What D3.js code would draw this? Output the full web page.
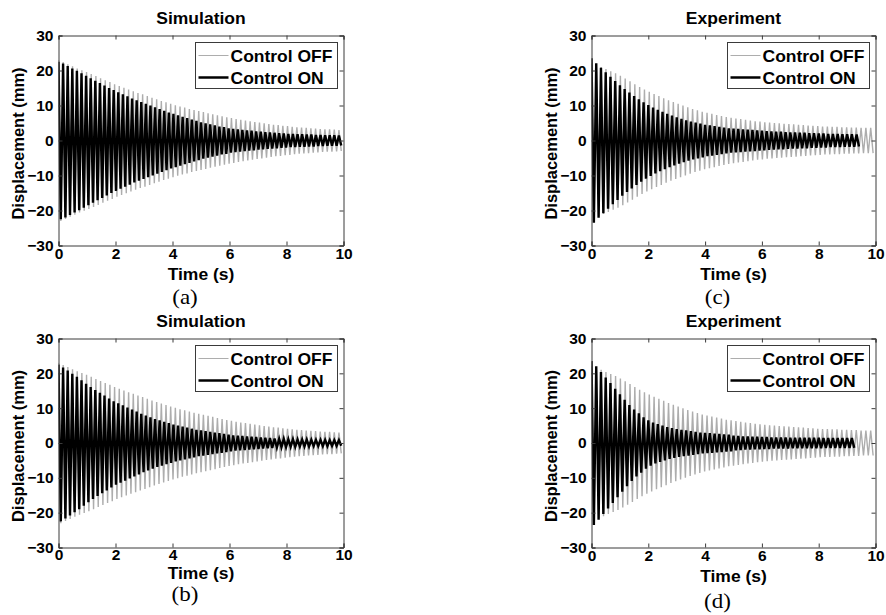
<!DOCTYPE html>
<html>
<head>
<meta charset="utf-8">
<script src="https://cdn.jsdelivr.net/npm/d3@7/dist/d3.min.js"></script>
<style>
  html, body { margin: 0; padding: 0; background: #fff; }
  svg { display: block; }
</style>
</head>
<body>
<svg id="fig" width="886" height="615"></svg>
<script>
// Free-vibration decay of the displacement, control off vs. control on.
// Each series is stored as its peak amplitude per oscillation cycle (mm);
// the trace alternates between +peak and -peak every half period.

const xTicks = [0, 2, 4, 6, 8, 10];
const yTicks = [-30, -20, -10, 0, 10, 20, 30];
const seriesNames = ["Control OFF", "Control ON"];
const panelTitles = ["Simulation", "Experiment", "Simulation", "Experiment"];
const panelLetters = ["(a)", "(c)", "(b)", "(d)"];

// oscillation periods (s)
const simOffPeriod = 0.164;
const simOnPeriod = 0.1613;
const expOffPeriod = 0.1695;
const expOnPeriod = 0.1667;

// simulation, control off (shared by a and b)
const simOffPeaks = [23.0, 22.4, 21.8, 21.2, 20.6, 20.1, 19.6, 19.0, 18.4, 17.8,
  17.2, 16.7, 16.1, 15.6, 15.1, 14.6, 14.1, 13.6, 13.2, 12.7,
  12.2, 11.8, 11.3, 10.9, 10.5, 10.1, 9.7, 9.4, 9.0, 8.7,
  8.4, 8.1, 7.8, 7.5, 7.2, 6.9, 6.6, 6.4, 6.1, 5.9,
  5.7, 5.5, 5.3, 5.1, 4.9, 4.7, 4.5, 4.4, 4.2, 4.1,
  3.9, 3.8, 3.7, 3.6, 3.5, 3.4, 3.3, 3.2, 3.2, 3.1,
  3.0, 3.0];

// simulation, control on (a)
const simOnPeaksA = [22.5, 22.0, 21.3, 20.6, 19.9, 19.2, 18.5, 17.8, 17.1, 16.4,
  15.7, 15.0, 14.4, 13.8, 13.2, 12.6, 12.0, 11.5, 11.0, 10.5,
  10.0, 9.5, 9.0, 8.5, 8.0, 7.6, 7.2, 6.8, 6.4, 6.0,
  5.6, 5.2, 4.9, 4.6, 4.3, 4.0, 3.8, 3.5, 3.3, 3.2,
  3.0, 2.9, 2.8, 2.6, 2.5, 2.4, 2.3, 2.2, 2.1, 2.0,
  1.9, 1.9, 1.8, 1.8, 1.7, 1.7, 1.6, 1.6, 1.5, 1.5,
  1.5, 1.4, 1.4];

// simulation, control on (b)
const simOnPeaksB = [22.5, 21.7, 20.8, 19.9, 19.0, 18.0, 17.0, 16.1, 15.2, 14.4,
  13.6, 12.8, 12.0, 11.4, 10.8, 10.2, 9.6, 9.0, 8.4, 7.9,
  7.4, 6.9, 6.5, 6.1, 5.7, 5.3, 5.0, 4.7, 4.4, 4.1,
  3.8, 3.6, 3.4, 3.2, 3.0, 2.8, 2.6, 2.4, 2.2, 2.1,
  2.0, 1.9, 1.8, 1.7, 1.6, 1.5, 1.4, 1.3, 1.2, 1.2,
  1.1, 1.1, 1.0, 1.0, 1.0, 0.9, 0.9, 0.9, 0.9, 0.8,
  0.8, 0.8, 0.8];

// experiment, control off (shared by c and d)
const expOffPeaks = [22.0, 21.5, 21.0, 20.4, 19.8, 19.2, 18.5, 17.7, 16.9, 16.1,
  15.3, 14.6, 13.9, 13.3, 12.7, 12.1, 11.5, 11.0, 10.5, 10.0,
  9.5, 9.0, 8.6, 8.2, 7.9, 7.6, 7.3, 7.0, 6.7, 6.5,
  6.3, 6.1, 5.9, 5.7, 5.5, 5.4, 5.2, 5.1, 5.0, 4.9,
  4.8, 4.7, 4.6, 4.5, 4.4, 4.3, 4.2, 4.1, 4.0, 4.0,
  3.9, 3.9, 3.8, 3.8, 3.7, 3.7, 3.6, 3.6, 3.6, 3.5];

// experiment, control on (c)
const expOnPeaksC = [23.5, 22.1, 20.8, 19.5, 18.2, 17.0, 15.8, 14.7, 13.7, 12.7,
  11.8, 10.9, 10.1, 9.4, 8.8, 8.2, 7.6, 7.1, 6.6, 6.2,
  5.8, 5.4, 5.1, 4.8, 4.5, 4.3, 4.1, 3.9, 3.7, 3.5,
  3.4, 3.3, 3.2, 3.1, 3.0, 2.9, 2.8, 2.7, 2.6, 2.5,
  2.5, 2.4, 2.3, 2.3, 2.2, 2.2, 2.1, 2.1, 2.0, 2.0,
  1.9, 1.9, 1.9, 1.8, 1.8, 1.8, 1.7];

// experiment, control on (d)
const expOnPeaksD = [23.5, 22.0, 20.4, 18.8, 17.2, 15.6, 14.0, 12.4, 10.9, 9.6,
  8.5, 7.4, 6.5, 5.9, 5.4, 5.0, 4.6, 4.3, 4.0, 3.8,
  3.6, 3.4, 3.2, 3.0, 2.9, 2.8, 2.7, 2.6, 2.5, 2.4,
  2.1, 2.0, 1.9, 1.9, 1.8, 1.8, 1.7, 1.7, 1.6, 1.6,
  1.6, 1.6, 1.5, 1.5, 1.5, 1.5, 1.5, 1.5, 1.5, 1.4,
  1.4, 1.4, 1.4, 1.4, 1.4, 1.4];

const panels = [
  { title: panelTitles[0], letter: panelLetters[0], off: simOffPeaks, offT: simOffPeriod, on: simOnPeaksA, onT: simOnPeriod,
    x0: 58.5, x1: 343.5, y0: 35.5, y1: 245.5, titleY: 24, xlabY: 280, letterY: 304, legY: 42.5, pad: 2 },
  { title: panelTitles[1], letter: panelLetters[1], off: expOffPeaks, offT: expOffPeriod, on: expOnPeaksC, onT: expOnPeriod,
    x0: 591.5, x1: 875.5, y0: 35.5, y1: 245.5, titleY: 24, xlabY: 280, letterY: 304, legY: 42.5, pad: 2 },
  { title: panelTitles[2], letter: panelLetters[2], off: simOffPeaks, offT: simOffPeriod, on: simOnPeaksB, onT: simOnPeriod,
    x0: 58.5, x1: 343.5, y0: 338.5, y1: 547.5, titleY: 327, xlabY: 579, letterY: 601, legY: 345.5, pad: 1 },
  { title: panelTitles[3], letter: panelLetters[3], off: expOffPeaks, offT: expOffPeriod, on: expOnPeaksD, onT: expOnPeriod,
    x0: 591.5, x1: 875.5, y0: 338.5, y1: 547.5, titleY: 327, xlabY: 582, letterY: 608, legY: 345.5, pad: 2 }
];

const OFF_COLOR = "#adadad";
const ON_COLOR = "#000000";
const FRAME = "#3a3a3a";
const FONT = "Arial, 'Liberation Sans', Helvetica, sans-serif";
const SERIF = "'Times New Roman', 'Liberation Serif', serif";

// turning points of a decaying oscillation: +peak, then -peak half a period later
function turningPoints(peaks, period) {
  const pts = [];
  peaks.forEach((a, k) => {
    pts.push({ t: k * period, v: a });
    pts.push({ t: (k + 0.5) * period, v: -a });
  });
  return pts.filter(p => p.t <= 10.0001);
}

// bold label, slightly widened horizontally
function label(sel, x, y, txt, size, opts = {}) {
  const rot = opts.rotate ? " rotate(-90)" : "";
  const sx = opts.sx || 1.06;
  return sel.append("text")
    .attr("transform", `translate(${x},${y})${rot} scale(${sx},1)`)
    .attr("text-anchor", opts.anchor || "middle")
    .style("font-family", opts.family || FONT)
    .style("font-size", size + "px")
    .style("font-weight", opts.weight || "bold")
    .attr("fill", "#000")
    .text(txt);
}

const svg = d3.select("#fig");

panels.forEach((p, i) => {
  const x = d3.scaleLinear().domain([0, 10]).range([p.x0, p.x1]);
  const y = d3.scaleLinear().domain([-30, 30]).range([p.y1, p.y0]);
  const g = svg.append("g");
  const cx = (p.x0 + p.x1) / 2;

  const clipId = "clip" + i;
  g.append("clipPath").attr("id", clipId)
    .append("rect").attr("x", p.x0).attr("y", p.y0)
    .attr("width", p.x1 - p.x0).attr("height", p.y1 - p.y0);

  const line = d3.line().x(d => x(d.t)).y(d => y(d.v));

  const plot = g.append("g").attr("clip-path", `url(#${clipId})`);
  plot.append("path").datum(turningPoints(p.off, p.offT))
    .attr("d", line).attr("fill", "none")
    .attr("stroke", OFF_COLOR).attr("stroke-width", 1.4);
  plot.append("path").datum(turningPoints(p.on, p.onT))
    .attr("d", line).attr("fill", "none")
    .attr("stroke", ON_COLOR).attr("stroke-width", 2.4);

  // axes: inward ticks on all four sides, labels on bottom and left
  const bottom = d3.axisBottom(x).tickValues(xTicks).tickSize(-4).tickPadding(p.pad).tickFormat(d3.format("d"));
  const top = d3.axisTop(x).tickValues(xTicks).tickSize(-4).tickFormat("");
  const left = d3.axisLeft(y).tickValues(yTicks).tickSize(-4).tickPadding(5).tickFormat(d3.format("d"));
  const right = d3.axisRight(y).tickValues(yTicks).tickSize(-4).tickFormat("");

  const axes = [
    g.append("g").attr("transform", `translate(0,${p.y1})`).call(bottom),
    g.append("g").attr("transform", `translate(0,${p.y0})`).call(top),
    g.append("g").attr("transform", `translate(${p.x0},0)`).call(left),
    g.append("g").attr("transform", `translate(${p.x1},0)`).call(right)
  ];
  axes.forEach(a => {
    a.select(".domain").attr("stroke", FRAME).attr("stroke-width", 1);
    a.selectAll(".tick line").attr("stroke", FRAME);
    a.selectAll(".tick text")
      .attr("fill", "#000").style("font-family", FONT)
      .style("font-size", "15.5px").style("font-weight", "bold");
  });

  label(g, cx, p.titleY, p.title, 16.5);
  label(g, cx, p.xlabY, "Time (s)", 16.5);
  label(g, p.x0 - 35, (p.y0 + p.y1) / 2 + 3, "Displacement (mm)", 16.5, { rotate: true, sx: 1 });
  label(g, cx - 16, p.letterY, p.letter, 20, { family: SERIF, weight: "normal", sx: 1.15 });

  // legend
  const lx = p.x1 - 148, lw = 142, lh = 46;
  const leg = g.append("g");
  leg.append("rect").attr("x", lx).attr("y", p.legY).attr("width", lw).attr("height", lh)
    .attr("fill", "#fff").attr("stroke", FRAME).attr("stroke-width", 1);
  seriesNames.forEach((name, j) => {
    const ry = p.legY + 13 + j * 22;
    leg.append("line").attr("x1", lx + 3).attr("x2", lx + 33).attr("y1", ry).attr("y2", ry)
      .attr("stroke", j === 0 ? OFF_COLOR : ON_COLOR).attr("stroke-width", j === 0 ? 1 : 2.5);
    label(leg, lx + 35, ry + 6, name, 16.5, { anchor: "start" });
  });
});
</script>
</body>
</html>
